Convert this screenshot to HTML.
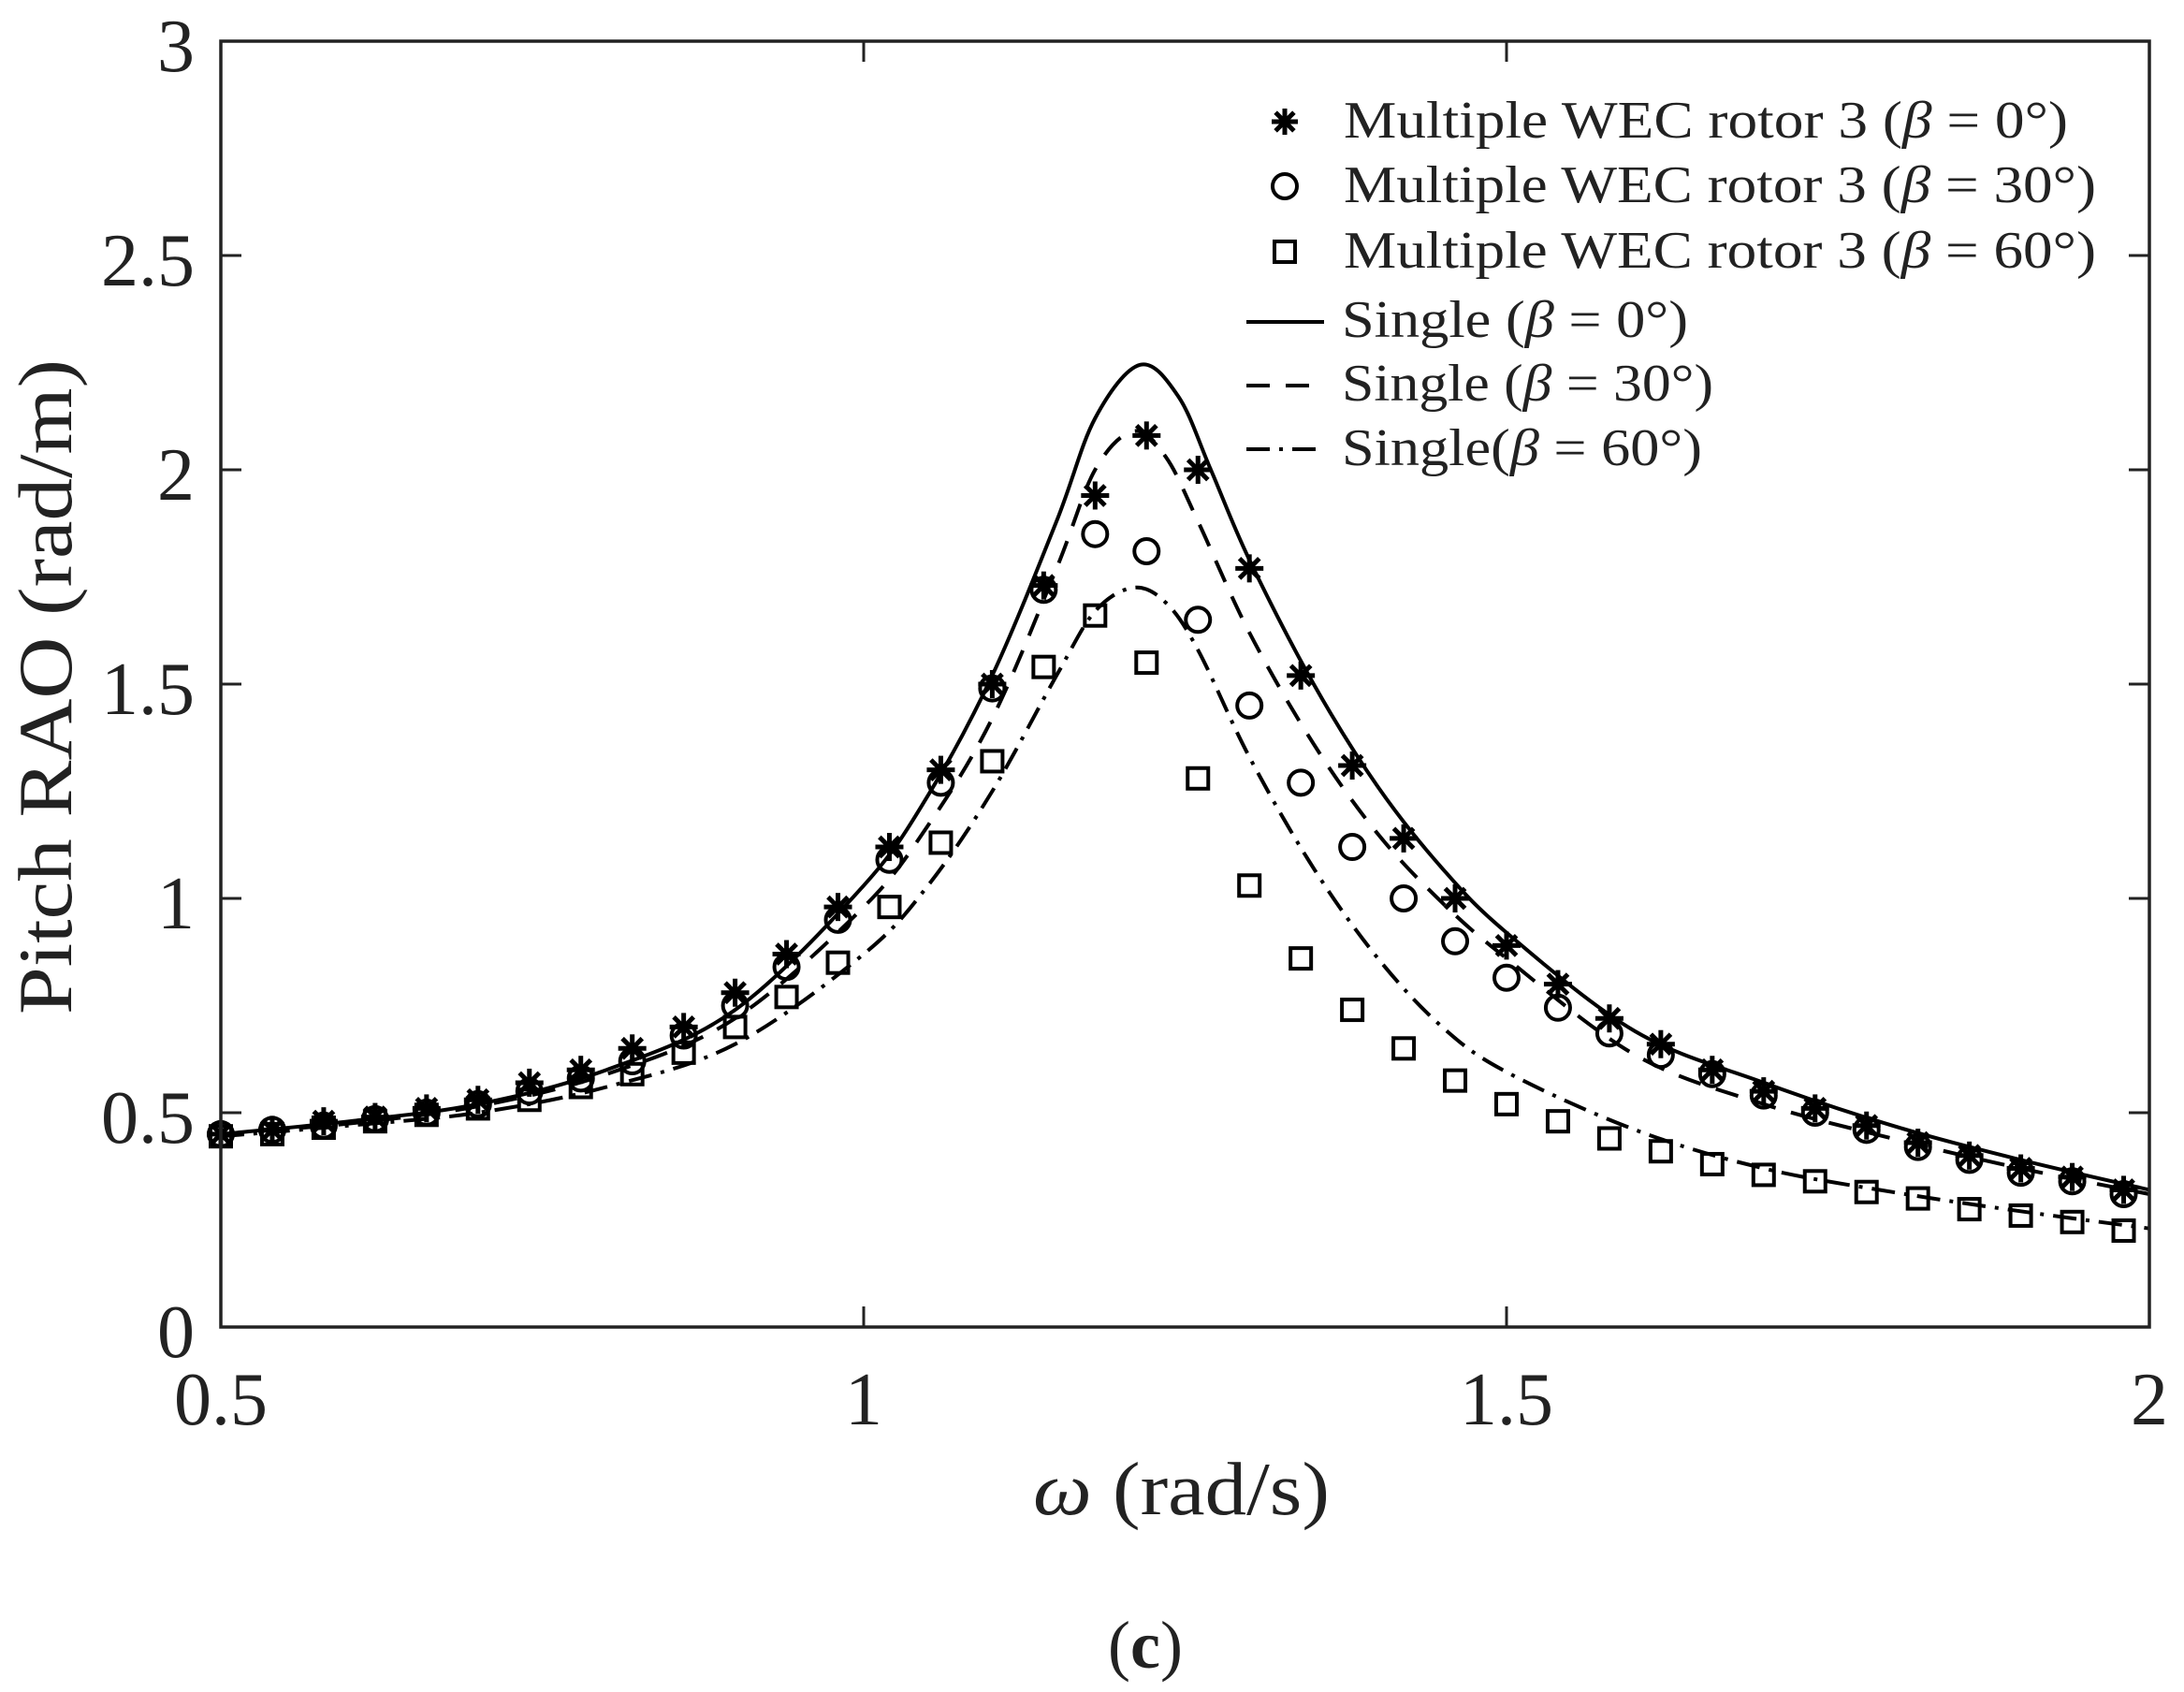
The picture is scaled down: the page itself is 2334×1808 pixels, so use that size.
<!DOCTYPE html>
<html><head><meta charset="utf-8"><style>
html,body{margin:0;padding:0;background:#fff;}
svg{display:block;}
text{font-family:"Liberation Serif",serif;fill:#222;}
</style></head><body>
<svg id="s" width="2334" height="1808" xmlns="http://www.w3.org/2000/svg">
<rect x="0" y="0" width="2334" height="1808" fill="#fff"/>
<g id="curves"></g>
<g id="marks"></g>
<rect x="236" y="44" width="2061" height="1374" fill="none" stroke="#222" stroke-width="3.5"/>
<g id="ticks" stroke="#222" stroke-width="3"></g>
<g font-size="80" text-anchor="end">
<text x="208" y="1450">0</text>
<text x="208" y="1221">0.5</text>
<text x="208" y="992">1</text>
<text x="208" y="763">1.5</text>
<text x="208" y="534">2</text>
<text x="208" y="305">2.5</text>
<text x="208" y="76">3</text>
</g>
<g font-size="80" text-anchor="middle">
<text x="236" y="1522">0.5</text>
<text x="923" y="1522">1</text>
<text x="1610" y="1522">1.5</text>
<text x="2297" y="1522">2</text>
</g>
<text x="1104" y="1618" font-size="80" textLength="317" lengthAdjust="spacingAndGlyphs"><tspan font-style="italic">ω</tspan> (rad/s)</text>
<text transform="translate(76,1084) rotate(-90)" font-size="82" textLength="700" lengthAdjust="spacingAndGlyphs">Pitch RAO (rad/m)</text>
<text x="1224" y="1782" font-size="72" text-anchor="middle">(<tspan font-weight="bold">c</tspan>)</text>
<g font-size="56" lengthAdjust="spacingAndGlyphs">
<text x="1436" y="147" textLength="774" lengthAdjust="spacingAndGlyphs">Multiple WEC rotor 3 (<tspan font-style="italic">β</tspan> = 0°)</text>
<text x="1436" y="216" textLength="804" lengthAdjust="spacingAndGlyphs">Multiple WEC rotor 3 (<tspan font-style="italic">β</tspan> = 30°)</text>
<text x="1436" y="286" textLength="804" lengthAdjust="spacingAndGlyphs">Multiple WEC rotor 3 (<tspan font-style="italic">β</tspan> = 60°)</text>
<text x="1434" y="360" textLength="370" lengthAdjust="spacingAndGlyphs">Single (<tspan font-style="italic">β</tspan> = 0°)</text>
<text x="1434" y="428" textLength="397" lengthAdjust="spacingAndGlyphs">Single (<tspan font-style="italic">β</tspan> = 30°)</text>
<text x="1434" y="497" textLength="385" lengthAdjust="spacingAndGlyphs">Single(<tspan font-style="italic">β</tspan> = 60°)</text>
</g>
<g stroke="#000" stroke-width="4" fill="none">
<line x1="1332" y1="344" x2="1415" y2="344"/>
<line x1="1332" y1="412" x2="1415" y2="412" stroke-dasharray="25,17"/>
<line x1="1332" y1="480" x2="1415" y2="480" stroke-dasharray="25,10,4,10"/>
</g>
<g id="legm"></g>
</svg>
<script>
var NS="http://www.w3.org/2000/svg";
function X(w){return 236+(w-0.5)/1.5*2061;}
function Y(v){return 1418-v*458;}
function el(t,a,p){var e=document.createElementNS(NS,t);for(var k in a)e.setAttribute(k,a[k]);p.appendChild(e);return e;}
var tk=document.getElementById('ticks');
[0.5,1,1.5,2].forEach(function(w){var x=X(w);el('line',{x1:x,y1:1418,x2:x,y2:1396},tk);el('line',{x1:x,y1:44,x2:x,y2:66},tk);});
[0,0.5,1,1.5,2,2.5,3].forEach(function(v){var y=Y(v);el('line',{x1:236,y1:y,x2:258,y2:y},tk);el('line',{x1:2297,y1:y,x2:2275,y2:y},tk);});
function smooth(pts){
  var n=pts.length,d="M"+X(pts[0][0]).toFixed(1)+","+Y(pts[0][1]).toFixed(1);
  for(var i=0;i<n-1;i++){
    var p0=pts[Math.max(0,i-1)],p1=pts[i],p2=pts[i+1],p3=pts[Math.min(n-1,i+2)];
    var a=[X(p0[0]),Y(p0[1])],b=[X(p1[0]),Y(p1[1])],c=[X(p2[0]),Y(p2[1])],e=[X(p3[0]),Y(p3[1])];
    var c1=[b[0]+(c[0]-a[0])/6,b[1]+(c[1]-a[1])/6],c2=[c[0]-(e[0]-b[0])/6,c[1]-(e[1]-b[1])/6];
    d+=" C"+c1[0].toFixed(1)+","+c1[1].toFixed(1)+" "+c2[0].toFixed(1)+","+c2[1].toFixed(1)+" "+c[0].toFixed(1)+","+c[1].toFixed(1);
  }
  return d;
}
var solid=[[0.5,.45],[0.6,.48],[0.7,.52],[0.8,.6],[0.9,.74],[1.0,1.03],[1.05,1.24],[1.1,1.52],[1.15,1.88],[1.18,2.12],[1.215,2.245],[1.245,2.17],[1.27,2.0],[1.3,1.79],[1.35,1.5],[1.4,1.26],[1.45,1.07],[1.5,.92],[1.6,.69],[1.7,.57],[1.8,.47],[1.9,.39],[2.0,.32]];
var dashed=[[0.5,.45],[0.6,.475],[0.7,.515],[0.8,.59],[0.9,.72],[1.0,.98],[1.05,1.17],[1.1,1.42],[1.15,1.77],[1.18,2.0],[1.21,2.09],[1.235,2.03],[1.26,1.88],[1.3,1.62],[1.35,1.36],[1.4,1.15],[1.45,.99],[1.5,.86],[1.6,.635],[1.7,.52],[1.8,.44],[1.9,.37],[2.0,.31]];
var dd=[[0.5,.445],[0.6,.47],[0.7,.50],[0.8,.56],[0.9,.66],[1.0,.87],[1.05,1.03],[1.1,1.25],[1.15,1.52],[1.18,1.67],[1.21,1.725],[1.235,1.69],[1.26,1.58],[1.3,1.33],[1.35,1.07],[1.4,.86],[1.45,.70],[1.5,.595],[1.6,.46],[1.7,.37],[1.8,.315],[1.9,.27],[2.0,.23]];
var cg=document.getElementById('curves');
el('path',{d:smooth(solid),fill:'none',stroke:'#000','stroke-width':4},cg);
el('path',{d:smooth(dashed),fill:'none',stroke:'#000','stroke-width':4,'stroke-dasharray':'25,17'},cg);
el('path',{d:smooth(dd),fill:'none',stroke:'#000','stroke-width':4,'stroke-dasharray':'25,10,4,10'},cg);
var stars=[.45,.46,.48,.49,.51,.53,.57,.60,.65,.70,.78,.87,.98,1.12,1.30,1.50,1.73,1.94,2.08,2.00,1.77,1.52,1.31,1.14,1.00,.89,.80,.72,.66,.60,.55,.51,.47,.43,.40,.37,.35,.32];
var circ=[.45,.46,.47,.485,.50,.52,.55,.58,.62,.68,.75,.84,.95,1.09,1.27,1.49,1.72,1.85,1.81,1.65,1.45,1.27,1.12,1.00,.90,.815,.745,.685,.635,.59,.54,.50,.46,.42,.39,.36,.34,.31];
var sq=[.445,.45,.465,.48,.495,.51,.53,.56,.59,.64,.70,.77,.85,.98,1.13,1.32,1.54,1.66,1.55,1.28,1.03,.86,.74,.65,.575,.52,.48,.44,.41,.38,.355,.34,.315,.30,.275,.26,.245,.225];
var mg=document.getElementById('marks');
function star(x,y,g,r){for(var k=0;k<4;k++){var a=k*Math.PI/4;el('line',{x1:x-r*Math.cos(a),y1:y-r*Math.sin(a),x2:x+r*Math.cos(a),y2:y+r*Math.sin(a),stroke:'#000','stroke-width':5},g);}}
function circle(x,y,g){el('circle',{cx:x,cy:y,r:13,fill:'none',stroke:'#000','stroke-width':4},g);}
function square(x,y,g){el('rect',{x:x-11,y:y-11,width:22,height:22,fill:'none',stroke:'#000','stroke-width':4},g);}
for(var i=0;i<38;i++){var w=0.5+0.04*i,x=X(w);
  square(x,Y(sq[i]),mg);circle(x,Y(circ[i]),mg);star(x,Y(stars[i]),mg,15);}
var lg=document.getElementById('legm');
star(1373,130,lg,14);circle(1373,199,lg);square(1373,269,lg);
</script>
</body></html>
